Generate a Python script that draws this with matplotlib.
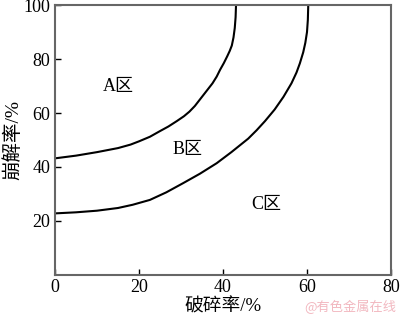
import matplotlib.pyplot as plt

plt.rcParams['font.family'] = ['Liberation Serif', 'Noto Sans CJK SC']

# boundary between A and B zones
upper_x = [0, 5, 10, 15, 18, 20, 22.6, 25, 27, 29, 30.7, 32, 33.3, 34.5, 36,
           37.5, 38.5, 39.3, 40.2, 41, 41.6, 42.1, 42.5, 42.8, 43.0, 43.1]
upper_y = [43.2, 44.2, 45.5, 47, 48.3, 49.5, 51.2, 53.3, 55, 57, 58.8, 60.5, 62.6, 65, 68,
           71, 73.5, 76, 78.5, 81, 83, 85, 88, 91.5, 95.5, 100]

# boundary between B and C zones
lower_x = [0, 5, 10, 15, 18.5, 22.6, 26.5, 30.5, 34.5, 38.5, 42, 46, 48, 50, 52.3,
           54.4, 56.3, 57.5, 58.3, 59.1, 59.6, 60.0, 60.2, 60.3]
lower_y = [22.8, 23.2, 23.8, 24.8, 26, 27.8, 30.6, 34, 37.5, 41.4, 45.5, 50.5, 53.6, 57, 61.3,
           66, 71, 75, 78.4, 82.5, 86, 90, 94.5, 100]

zones = ['A区', 'B区', 'C区']
zone_x = [15, 31.5, 50.2]
zone_y = [70, 46.3, 26]

fig = plt.figure(figsize=(4, 3.16), dpi=100)
ax = fig.add_axes([0.1375, 0.13, 0.84, 0.854])

ax.plot(upper_x, upper_y, color='black', lw=1.5)
ax.plot(lower_x, lower_y, color='black', lw=1.5)

for name, x, y in zip(zones, zone_x, zone_y):
    ax.text(x, y, name, fontsize=13, ha='center', va='center')

ax.set_xlim(0, 80)
ax.set_ylim(0, 100)
ax.set_xticks([0, 20, 40, 60, 80])
ax.set_yticks([20, 40, 60, 80, 100])
ax.tick_params(direction='in', length=4, width=1, labelsize=13, colors='black',
               top=False, right=False)
ax.tick_params(axis='x', pad=3)
for s in ax.spines.values():
    s.set_color('#666666')
    s.set_linewidth(1.5)

ax.set_xlabel('破碎率/%', fontsize=13.5, labelpad=1.5)
ax.set_ylabel('崩解率/%', fontsize=14, labelpad=1)

fig.text(0.875, 0.03, '@有色金属在线', fontsize=9.5, color='#f2b8c0',
         ha='center', va='center', family=['Noto Sans CJK SC', 'DejaVu Sans'])

fig.savefig('out.png', dpi=100)
